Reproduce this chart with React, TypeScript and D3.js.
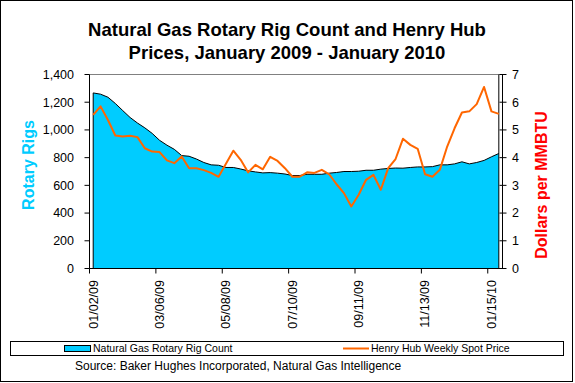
import React from "react";
import * as d3 from "d3";

const rigCount: number[] = [
  1267, 1258, 1236, 1191, 1140, 1090, 1050, 1015, 975, 925,
  890, 860, 815, 810, 790, 765, 748, 745, 729, 729,
  718, 705, 697, 690, 692, 688, 682, 671, 671, 680,
  680, 680, 688, 693, 700, 700, 702, 709, 709, 717,
  722, 725, 724, 729, 733, 733, 735, 748, 748, 755,
  770, 755, 765, 780, 806, 830,
];

const henryHub: number[] = [
  5.54, 5.85, 5.36, 4.8, 4.76, 4.79, 4.74, 4.34, 4.22, 4.2,
  3.9, 3.8, 4.04, 3.62, 3.62, 3.55, 3.45, 3.31, 3.78, 4.25,
  3.92, 3.47, 3.74, 3.58, 4.03, 3.88, 3.62, 3.31, 3.31, 3.47,
  3.45, 3.56, 3.4, 3.04, 2.72, 2.24, 2.66, 3.2, 3.38, 2.84,
  3.62, 3.95, 4.68, 4.46, 4.32, 3.4, 3.31, 3.56, 4.4, 5.06,
  5.63, 5.67, 5.93, 6.55, 5.67, 5.58,
];

const tickIndices: number[] = [0, 9, 18, 27, 36, 45, 54];
const tickLabels: string[] = ["01/02/09", "03/06/09", "05/08/09", "07/10/09", "09/11/09", "11/13/09", "01/15/10"];
const leftTicks: number[] = [0, 200, 400, 600, 800, 1000, 1200, 1400];
const rightTicks: number[] = [0, 1, 2, 3, 4, 5, 6, 7];

const FONT = "'Liberation Sans', Arial, sans-serif";
const CYAN = "#00CCFF";
const ORANGE = "#FF6600";

export default function App() {
  const n = rigCount.length;
  const left = 89.5;
  const right = 502.5;
  const top = 74.5;
  const bottom = 268.5;

  const x = d3.scaleLinear().domain([0, n]).range([left, right]);
  const yL = d3.scaleLinear().domain([0, 1400]).range([bottom, top]);
  const yR = d3.scaleLinear().domain([0, 7]).range([bottom, top]);
  const cx = (i: number) => x(i + 0.5);

  const areaPath = d3
    .area<number>()
    .x((_, i) => cx(i))
    .y0(bottom)
    .y1((d) => yL(d))(rigCount) as string;

  const topLine = d3
    .line<number>()
    .x((_, i) => cx(i))
    .y((d) => yL(d))(rigCount) as string;

  const pricePath = d3
    .line<number>()
    .x((_, i) => cx(i))
    .y((d) => yR(d))(henryHub) as string;

  return (
    <svg
      width={575}
      height={383}
      style={{ position: "fixed", left: 0, top: 0, background: "#fff" }}
      fontFamily={FONT}
    >
      <rect x={0.5} y={0.5} width={572} height={381} fill="#fff" stroke="#000" />
      <text x={287} y={36} textAnchor="middle" fontSize={18.5} fontWeight="bold">
        Natural Gas Rotary Rig Count and Henry Hub
      </text>
      <text x={287} y={58.5} textAnchor="middle" fontSize={18.5} fontWeight="bold">
        Prices, January 2009 - January 2010
      </text>

      {/* plot frame top */}
      <line x1={left} x2={right} y1={top} y2={top} stroke="#808080" />

      {/* area */}
      <path d={areaPath} fill={CYAN} stroke="none" />
      <path d={topLine} fill="none" stroke="#000" strokeWidth={1} />
      <line x1={cx(0)} x2={cx(0)} y1={yL(rigCount[0])} y2={bottom} stroke="#000" />
      <line x1={cx(n - 1)} x2={cx(n - 1)} y1={top} y2={bottom} stroke="#000" />

      {/* price line */}
      <path d={pricePath} fill="none" stroke={ORANGE} strokeWidth={2} strokeLinejoin="round" />

      {/* axes */}
      <line x1={left} x2={left} y1={top} y2={bottom} stroke="#000" />
      <line x1={right} x2={right} y1={top} y2={bottom} stroke="#000" />
      <line x1={left} x2={right} y1={bottom} y2={bottom} stroke="#000" />

      {leftTicks.map((t) => (
        <g key={"l" + t}>
          <line x1={left - 5} x2={left} y1={yL(t)} y2={yL(t)} stroke="#000" />
          <text x={74} y={yL(t)} dy="0.35em" textAnchor="end" fontSize={12.5}>
            {d3.format(",")(t)}
          </text>
        </g>
      ))}
      {rightTicks.map((t) => (
        <g key={"r" + t}>
          <line x1={right - 3} x2={right + 4} y1={yR(t)} y2={yR(t)} stroke="#000" />
          <text x={512} y={yR(t)} dy="0.35em" textAnchor="start" fontSize={12.5}>
            {t}
          </text>
        </g>
      ))}
      {tickIndices.map((ti, k) => (
        <g key={"x" + ti}>
          <line x1={x(ti)} x2={x(ti)} y1={bottom} y2={bottom + 5} stroke="#000" />
          <text
            transform={`translate(${cx(ti)},${280}) rotate(-90)`}
            dy="0.35em"
            textAnchor="end"
            fontSize={12.5}
          >
            {tickLabels[k]}
          </text>
        </g>
      ))}

      <text
        transform="translate(28,165) rotate(-90)"
        dy="0.35em"
        textAnchor="middle"
        fontSize={16}
        fontWeight="bold"
        fill={CYAN}
      >
        Rotary Rigs
      </text>
      <text
        transform="translate(541,185) rotate(-90)"
        dy="0.35em"
        textAnchor="middle"
        fontSize={16}
        fontWeight="bold"
        fill="#FF0000"
      >
        Dollars per MMBTU
      </text>

      {/* legend */}
      <rect x={10.5} y={341.5} width={553} height={14} fill="#fff" stroke="#000" />
      <rect x={64.5} y={345.5} width={26} height={6} fill={CYAN} stroke="#000" />
      <text x={93} y={348.5} dy="0.35em" fontSize={10.5}>
        Natural Gas Rotary Rig Count
      </text>
      <line x1={343} x2={369} y1={348.5} y2={348.5} stroke={ORANGE} strokeWidth={2} />
      <text x={371} y={348.5} dy="0.35em" fontSize={10.5}>
        Henry Hub Weekly Spot Price
      </text>

      <text x={75} y={365.5} dy="0.35em" fontSize={12}>
        Source: Baker Hughes Incorporated, Natural Gas Intelligence
      </text>
    </svg>
  );
}
